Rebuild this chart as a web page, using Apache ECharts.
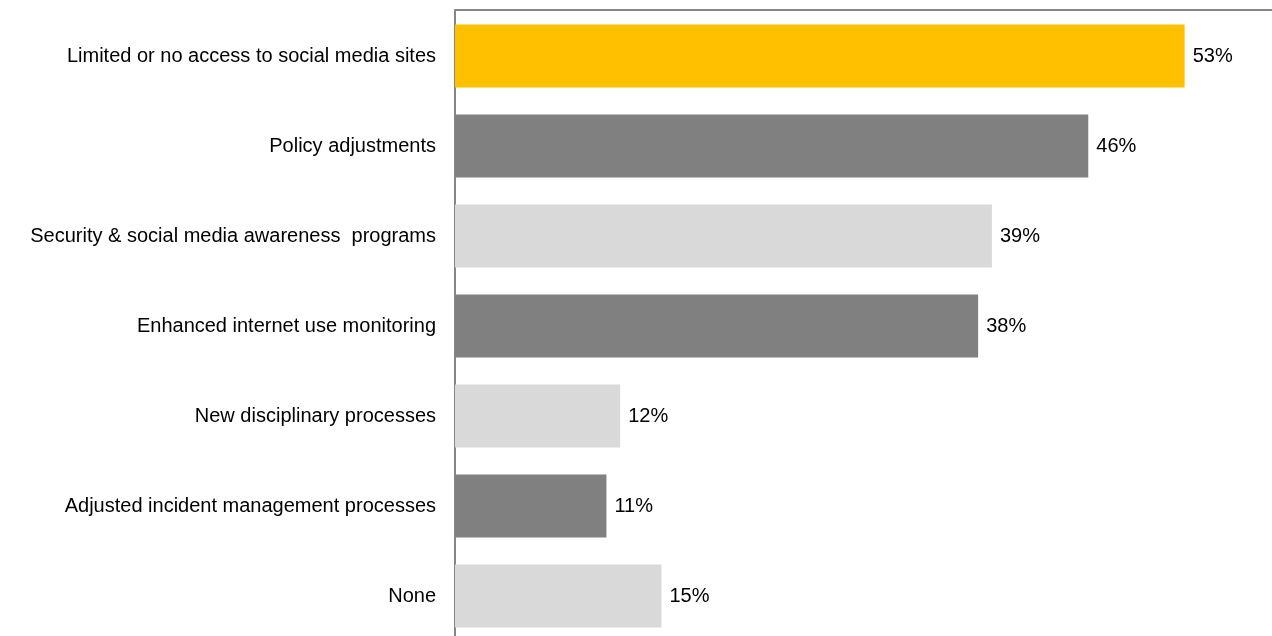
<!DOCTYPE html>
<html>
<head>
<meta charset="utf-8">
<script src="https://cdn.jsdelivr.net/npm/echarts@6/dist/echarts.min.js"></script>
<style>
  html, body { margin: 0; padding: 0; background: #fff; }
  #chart { width: 1272px; height: 636px; }
</style>
</head>
<body>
<div id="chart"></div>
<script>
// Survey responses: measures taken, share of respondents
const categories = [
  'Limited or no access to social media sites',
  'Policy adjustments',
  'Security & social media awareness  programs',
  'Enhanced internet use monitoring',
  'New disciplinary processes',
  'Adjusted incident management processes',
  'None'
];
const values = [53, 46, 39, 38, 12, 11, 15];
const barColors = ['#FFC000', '#808080', '#D9D9D9', '#808080', '#D9D9D9', '#808080', '#D9D9D9'];

const chart = echarts.init(document.getElementById('chart'), null, { renderer: 'canvas' });

chart.setOption({
  animation: false,
  grid: {
    left: 455, top: 11, width: 826, height: 630,
    containLabel: false,
    outerBoundsMode: 'none'
  },
  xAxis: {
    type: 'value',
    position: 'top',
    offset: 1,
    min: 0,
    max: 60,
    axisLine: { show: true, lineStyle: { color: '#868686', width: 2 } },
    axisTick: { show: false },
    axisLabel: { show: false },
    splitLine: { show: false }
  },
  yAxis: {
    type: 'category',
    inverse: true,
    data: categories,
    axisLine: { show: true, lineStyle: { color: '#868686', width: 2 } },
    axisTick: { show: false },
    axisLabel: {
      margin: 19,
      color: '#000',
      fontFamily: 'Liberation Sans, Arial, sans-serif',
      fontSize: 20
    }
  },
  series: [{
    type: 'bar',
    barCategoryGap: '30%',
    data: values.map((v, i) => ({ value: v, itemStyle: { color: barColors[i] } })),
    label: {
      show: true,
      position: 'right',
      distance: 8,
      formatter: '{c}%',
      color: '#000',
      fontFamily: 'Liberation Sans, Arial, sans-serif',
      fontSize: 20
    }
  }]
});
</script>
</body>
</html>
